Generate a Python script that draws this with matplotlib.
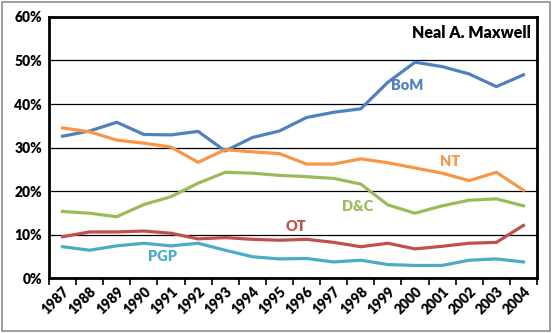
import matplotlib
matplotlib.use("Agg")
import matplotlib.pyplot as plt
from matplotlib.patches import Rectangle
from matplotlib.ticker import FuncFormatter, FixedLocator

plt.rcParams['font.family'] = ['Lato', 'DejaVu Sans']
plt.rcParams['font.weight'] = 'bold'

years = [str(y) for y in range(1987, 2005)]

bom = [32.6, 33.8, 35.8, 33.0, 32.9, 33.7, 29.2, 32.3, 33.8, 36.9, 38.1, 38.9,
       45.0, 49.6, 48.6, 46.9, 44.0, 46.7]
nt = [34.5, 33.6, 31.7, 31.0, 30.1, 26.6, 29.5, 29.0, 28.6, 26.2, 26.2, 27.4,
      26.5, 25.3, 24.1, 22.4, 24.3, 20.2]
dc = [15.3, 14.9, 14.1, 16.9, 18.7, 21.8, 24.3, 24.1, 23.6, 23.3, 22.9, 21.6,
      16.8, 14.9, 16.6, 17.9, 18.2, 16.6]
ot = [9.5, 10.6, 10.6, 10.8, 10.3, 9.0, 9.3, 8.9, 8.7, 8.9, 8.2, 7.2,
      8.0, 6.7, 7.3, 8.0, 8.2, 12.1]
pgp = [7.2, 6.4, 7.4, 8.0, 7.4, 8.0, 6.4, 4.9, 4.4, 4.5, 3.7, 4.1,
       3.1, 2.9, 2.9, 4.1, 4.4, 3.7]

# name, values, colour, label position (category index, percent)
series = [
    ('BoM', bom, '#4F81BD', (12.7, 44.2)),
    ('NT', nt, '#F79646', (14.3, 26.7)),
    ('D&C', dc, '#9BBB59', (10.9, 16.4)),
    ('OT', ot, '#C0504D', (8.6, 11.9)),
    ('PGP', pgp, '#4BACC6', (3.7, 4.9)),
]

fig = plt.figure(figsize=(5.53, 3.33), dpi=100)
ax = fig.add_axes([0.0886, 0.165, 0.8825, 0.784])

x = list(range(len(years)))
for name, vals, color, (lx, ly) in series:
    ax.plot(x, vals, color=color, lw=2.3, solid_joinstyle='round', zorder=3)
    ax.text(lx, ly, name, color=color, fontsize=10.5, fontweight='heavy',
            ha='center', va='center', zorder=4)

ax.set_xlim(-0.5, len(years) - 0.5)
ax.set_ylim(0, 60)
ax.set_yticks(range(0, 61, 10))
ax.yaxis.set_major_formatter(FuncFormatter(lambda v, p: f'{v:.0f}%'))
ax.yaxis.grid(True, color='black', lw=0.9)
ax.set_axisbelow(True)
ax.tick_params(axis='y', length=0, pad=5, labelsize=10)
for lab in ax.get_yticklabels():
    lab.set_fontweight('heavy')

ax.set_xticks(x)
ax.set_xticklabels(years, rotation=45, ha='right', rotation_mode='anchor',
                   fontsize=10, fontweight='heavy')
ax.xaxis.set_minor_locator(FixedLocator([i - 0.5 for i in range(len(years) + 1)]))
ax.tick_params(axis='x', which='major', length=0, pad=5)
ax.tick_params(axis='x', which='minor', length=5, width=1.2, direction='out')

for sp in ax.spines.values():
    sp.set_linewidth(2)
    sp.set_color('black')

ax.text(0.987, 0.937, 'Neal A. Maxwell', transform=ax.transAxes, ha='right',
        va='center', fontsize=11.5, fontweight='heavy', color='black')

fig.patches.append(Rectangle((0.004, 0.005), 0.99, 0.99, transform=fig.transFigure,
                             fill=False, edgecolor='#8c8c8c', lw=1.2))

fig.savefig('out.png', dpi=100)
